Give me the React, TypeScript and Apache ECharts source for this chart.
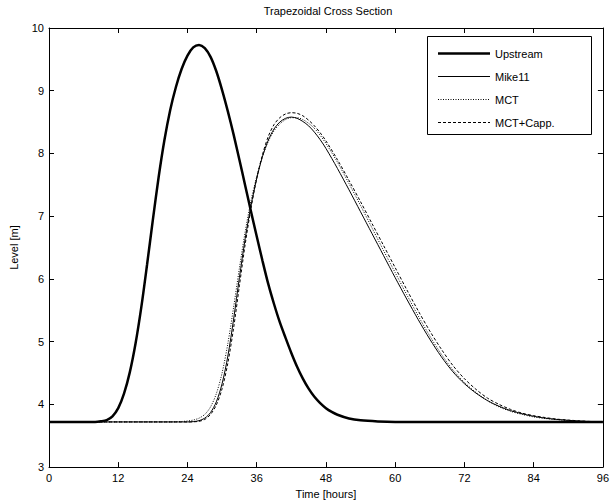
import React, { useEffect, useRef } from "react";
import * as echarts from "echarts";

const titleText = "Trapezoidal Cross Section";
const xAxisName = "Time [hours]";
const yAxisName = "Level [m]";

const upTime = [0, 8, 9, 10, 11, 12, 13, 14, 15, 16, 17, 18, 19, 20, 21, 22, 23, 24, 25, 26, 27, 28, 29, 30, 31, 32, 33, 34, 35, 36, 37, 38, 39, 40, 41, 42, 43, 44, 45, 46, 47, 48, 49, 50, 52, 54, 57, 60, 96];
const upstream = [3.72, 3.72, 3.73, 3.75, 3.81, 3.94, 4.17, 4.51, 4.97, 5.55, 6.23, 6.94, 7.62, 8.21, 8.69, 9.06, 9.35, 9.56, 9.69, 9.73, 9.68, 9.54, 9.31, 9.01, 8.67, 8.3, 7.9, 7.49, 7.08, 6.68, 6.29, 5.92, 5.6, 5.31, 5.06, 4.82, 4.6, 4.41, 4.25, 4.12, 4.02, 3.94, 3.88, 3.835, 3.775, 3.745, 3.727, 3.72, 3.72];

const dsTime = [0, 20, 22, 23, 24, 25, 26, 27, 28, 29, 30, 31, 32, 33, 34, 35, 36, 37, 38, 39, 40, 41, 42, 43, 44, 45, 46, 47, 48, 50, 52, 54, 56, 58, 60, 62, 64, 66, 68, 70, 72, 74, 76, 78, 80, 82, 84, 86, 88, 90, 92, 94, 96];
const mike11 = [3.72, 3.72, 3.72, 3.72, 3.72, 3.725, 3.74, 3.78, 3.87, 4.04, 4.33, 4.77, 5.36, 6.02, 6.64, 7.16, 7.6, 7.95, 8.21, 8.39, 8.5, 8.56, 8.58, 8.56, 8.51, 8.44, 8.34, 8.22, 8.08, 7.76, 7.42, 7.07, 6.72, 6.37, 6.02, 5.68, 5.35, 5.04, 4.76, 4.52, 4.33, 4.18, 4.06, 3.97, 3.9, 3.85, 3.81, 3.78, 3.76, 3.745, 3.733, 3.725, 3.72];
const mct = [3.72, 3.72, 3.722, 3.727, 3.735, 3.75, 3.78, 3.84, 3.96, 4.17, 4.5, 4.97, 5.55, 6.17, 6.75, 7.24, 7.63, 7.95, 8.19, 8.36, 8.47, 8.54, 8.57, 8.57, 8.54, 8.48, 8.4, 8.29, 8.16, 7.86, 7.52, 7.17, 6.81, 6.45, 6.1, 5.75, 5.41, 5.09, 4.8, 4.55, 4.35, 4.19, 4.06, 3.96, 3.89, 3.84, 3.8, 3.775, 3.757, 3.743, 3.732, 3.725, 3.72];
const mctCapp = [3.72, 3.72, 3.72, 3.72, 3.72, 3.722, 3.73, 3.76, 3.84, 3.99, 4.25, 4.66, 5.22, 5.89, 6.55, 7.12, 7.6, 7.98, 8.27, 8.46, 8.57, 8.63, 8.65, 8.64, 8.6, 8.53, 8.44, 8.33, 8.2, 7.9, 7.57, 7.23, 6.88, 6.53, 6.18, 5.83, 5.49, 5.17, 4.88, 4.62, 4.41, 4.24, 4.1, 4.0, 3.92, 3.86, 3.82, 3.79, 3.765, 3.75, 3.737, 3.727, 3.72];

const seriesNames = ["Upstream", "Mike11", "MCT", "MCT+Capp."];
const seriesWidths = [2.5, 1, 1, 1];
const seriesDash: (number[] | null)[] = [null, null, [1, 1.5], [3, 2]];

const zip = (t: number[], v: number[]) => t.map((x, i) => [x, v[i]]);

const FONT = "Liberation Sans, Arial, Helvetica, sans-serif";

export default function App() {
  const ref = useRef<HTMLDivElement>(null);
  useEffect(() => {
    if (!ref.current) return;
    const chart = echarts.init(ref.current, null, { renderer: "svg" });
    const axisCommon = {
      axisLine: { show: true, onZero: false, lineStyle: { color: "#000", width: 1 } },
      axisTick: { show: true, inside: true, length: 5, lineStyle: { color: "#000", width: 1 } },
      splitLine: { show: false },
    };
    const lineBase = {
      type: "line" as const,
      showSymbol: false,
      symbol: "none",
      smooth: 0.3,
      silent: true,
      z: 3,
    };
    const datasets = [zip(upTime, upstream), zip(dsTime, mike11), zip(dsTime, mct), zip(dsTime, mctCapp)];

    const lgLeft = 427.5;
    const lgTop = 36.5;
    const lgW = 164;
    const rowY0 = 52.5;
    const rowStep = 23;
    const lgH = rowY0 - lgTop + rowStep * 3 + 13;
    const legendEls: any[] = [
      {
        type: "rect",
        shape: { x: lgLeft, y: lgTop, width: lgW, height: lgH },
        style: { fill: "#fff", stroke: "#000", lineWidth: 1 },
        z: 100,
        silent: true,
      },
    ];
    seriesNames.forEach((name, i) => {
      const y = Math.round(rowY0 + rowStep * i) + 0.5;
      legendEls.push({
        type: "line",
        shape: { x1: 438, y1: y, x2: 490, y2: y },
        style: {
          stroke: "#000",
          lineWidth: seriesWidths[i],
          lineDash: seriesDash[i] || undefined,
        },
        z: 101,
        silent: true,
      });
      legendEls.push({
        type: "text",
        x: 495,
        y: y,
        style: {
          text: name,
          fill: "#000",
          font: `11px ${FONT}`,
          textVerticalAlign: "middle",
          verticalAlign: "middle",
        },
        z: 101,
        silent: true,
      });
    });

    chart.setOption({
      animation: false,
      backgroundColor: "#fff",
      textStyle: { fontFamily: FONT },
      title: {
        text: titleText,
        left: 323,
        textAlign: "center",
        top: 0,
        textStyle: { fontSize: 11, fontWeight: "normal", color: "#000", fontFamily: FONT },
      },
      grid: { left: 44, right: 9, top: 28, bottom: 35, containLabel: false },
      xAxis: [
        {
          ...axisCommon,
          type: "value",
          min: 0,
          max: 96,
          interval: 12,
          name: xAxisName,
          nameLocation: "middle",
          nameGap: 20,
          nameTextStyle: { fontSize: 11, color: "#000", fontFamily: FONT },
          axisLabel: { fontSize: 11, color: "#000", margin: 5, fontFamily: FONT },
        },
        {
          ...axisCommon,
          type: "value",
          position: "top",
          min: 0,
          max: 96,
          interval: 12,
          axisLabel: { show: false },
        },
      ],
      yAxis: [
        {
          ...axisCommon,
          type: "value",
          min: 3,
          max: 10,
          interval: 1,
          name: yAxisName,
          nameLocation: "middle",
          nameGap: 30,
          nameTextStyle: { fontSize: 11, color: "#000", fontFamily: FONT },
          axisLabel: { fontSize: 11, color: "#000", margin: 5, fontFamily: FONT },
        },
        {
          ...axisCommon,
          type: "value",
          position: "right",
          min: 3,
          max: 10,
          interval: 1,
          axisLabel: { show: false },
        },
      ],
      graphic: legendEls,
      series: seriesNames.map((name, i) => ({
        ...lineBase,
        name,
        data: datasets[i],
        lineStyle: {
          color: "#000",
          width: seriesWidths[i],
          type: seriesDash[i] || "solid",
        },
        itemStyle: { color: "#000" },
      })),
    });
    return () => chart.dispose();
  }, []);
  return (
    <div
      ref={ref}
      style={{ position: "fixed", left: 0, top: 0, width: 612, height: 504 }}
    />
  );
}
